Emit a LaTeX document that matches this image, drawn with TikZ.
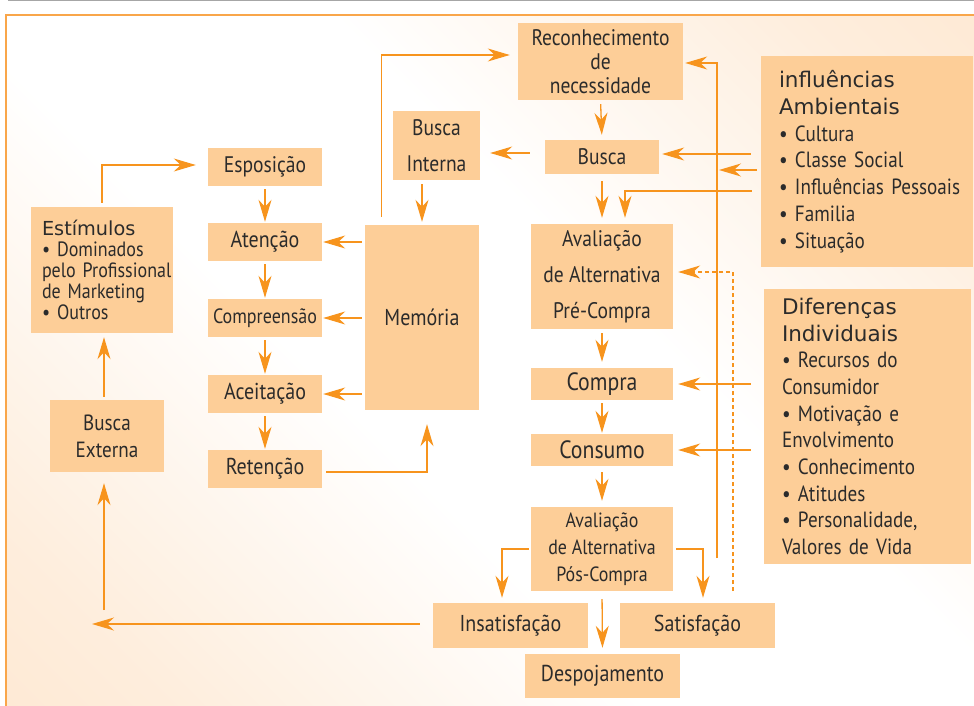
\documentclass[tikz,border=0pt]{standalone}
\usepackage{fontspec}
\setmainfont{PT Sans}[FakeStretch=0.87]
\newfontfamily\headfont{DejaVu Sans}
\usetikzlibrary{arrows.meta}
\definecolor{boxc}{HTML}{FDCE98}
\definecolor{orng}{HTML}{F7941D}
\definecolor{peach}{HTML}{FDE2C6}
\definecolor{txt}{HTML}{2B2B2B}
\definecolor{framec}{HTML}{F9A64A}
\pgfdeclarehorizontalshading{bgsh}{100bp}{color(0bp)=(peach); color(22bp)=(peach!60!white); color(42bp)=(white); color(58bp)=(white); color(78bp)=(peach!60!white); color(100bp)=(peach)}
\newcommand\fs[2]{\fontsize{#1}{#2}\selectfont}
\begin{document}
\begin{tikzpicture}[x=1pt,y=-1pt,
  bx/.style={fill=boxc, inner sep=0pt, align=center, text=txt},
  arr/.style={draw=orng, line width=1.3pt, -{Stealth[length=22pt,width=13pt,inset=7pt]}},
  darr/.style={arr, dash pattern=on 4pt off 3pt, line width=1.1pt},
  ln/.style={draw=orng, line width=1.3pt}]
\useasboundingbox (0,0) rectangle (974,706);
\fill[white] (0,0) rectangle (974,706);
\shade[shading=bgsh, shading angle=45] (6,15) rectangle (974,706);
\draw[framec, line width=1.3pt] (6,706) -- (6,15) -- (974,15);
\draw[gray!70, line width=1.5pt] (8,0.7) -- (974,0.7);

% boxes
\node[bx, minimum width=165pt, minimum height=77pt, font=\fs{22.5}{24}] (rec) at (600.5,61.5) {Reconhecimento\\de\\necessidade};
\node[bx, minimum width=114pt, minimum height=34pt, font=\fs{22.5}{24}] (busca) at (602,157) {Busca};
\node[bx, minimum width=142pt, minimum height=105pt, font=\fs{22.5}{36}] (avpre) at (602,276.5) {Avaliação\\de Alternativa\\Pré-Compra};
\node[bx, minimum width=142pt, minimum height=32pt, font=\fs{25}{26}] (compra) at (602,384) {Compra};
\node[bx, minimum width=142pt, minimum height=32pt, font=\fs{25}{26}] (consumo) at (602,450) {Consumo};
\node[bx, minimum width=142pt, minimum height=84pt, font=\fs{20.6}{27}] (avpos) at (602,549) {Avaliação\\de Alternativa\\Pós-Compra};
\node[bx, minimum width=155pt, minimum height=45pt, font=\fs{23}{24}] (insat) at (510.5,625.5) {Insatisfação};
\node[bx, minimum width=155pt, minimum height=45pt, font=\fs{23}{24}] (sat) at (697.5,625.5) {Satisfação};
\node[bx, minimum width=155pt, minimum height=44pt, font=\fs{23}{24}] (desp) at (602.5,676) {Despojamento};
\node[bx, minimum width=87pt, minimum height=69pt, font=\fs{22.5}{36}] (bint) at (436.5,145.5) {Busca\\Interna};
\node[bx, minimum width=114pt, minimum height=185pt, font=\fs{23}{24}] (mem) at (422,317.5) {Memória};
\node[bx, minimum width=114pt, minimum height=38pt, font=\fs{22.5}{24}] (esp) at (265,167) {Esposição};
\node[bx, minimum width=114pt, minimum height=38pt, font=\fs{23}{24}] (aten) at (265,242) {Atenção};
\node[bx, minimum width=114pt, minimum height=38pt, font=\fs{20.7}{24}] (comp) at (265,318) {Compreensão};
\node[bx, minimum width=114pt, minimum height=38pt, font=\fs{23}{24}] (acei) at (265,394) {Aceitação};
\node[bx, minimum width=114pt, minimum height=38pt, font=\fs{23}{24}] (ret) at (265,469) {Retenção};
\node[bx, minimum width=114pt, minimum height=72pt, font=\fs{22}{27}] (bext) at (107,436) {Busca\\Externa};
\node[bx, minimum width=142pt, minimum height=126pt, text width=120pt, align=left, font=\fs{20.7}{21.2}] (estim) at (102,270)
  {{\headfont\fs{19.3}{21.2}Estímulos}\\• Dominados\\\mbox{pelo Profissional}\\de Marketing\\• Outros};
\node[bx, minimum width=212pt, minimum height=211pt, text width=176pt, align=left, font=\fs{22}{26.8}] (amb) at (867,161.5)
  {{\headfont\fs{21.5}{26.8}influências\\Ambientais}\\• Cultura\\• Classe Social\\\mbox{• Influências Pessoais}\\• Familia\\• Situação};
\node[bx, minimum width=207pt, minimum height=275pt, text width=171pt, align=left, font=\fs{22}{26.7}] (dif) at (867.5,426.5)
  {{\headfont\fs{21.5}{26.7}Diferenças\\Individuais}\\• Recursos do\\Consumidor\\• Motivação e\\Envolvimento\\• Conhecimento\\• Atitudes\\• Personalidade,\\Valores de Vida};

% free coordinates
\coordinate (fbb) at (717,558);
\coordinate (fbm) at (717,170);
\coordinate (lft) at (92,624);
\coordinate (upb) at (104,610);
\coordinate (dsb) at (733,591);

% left chain
\draw[arr, shorten <=4pt, shorten >=12pt] (estim.north) |- ([yshift=2pt]esp.west);
\draw[arr, shorten <=3pt, shorten >=1pt] (esp) -- (aten);
\draw[arr, shorten <=3pt, shorten >=1pt] (aten) -- (comp);
\draw[arr, shorten <=3pt, shorten >=1pt] (comp) -- (acei);
\draw[arr, shorten <=3pt, shorten >=1pt] (acei) -- (ret);
\draw[arr, shorten <=3pt, shorten >=1pt] (mem.west |- aten.east) -- (aten.east);
\draw[arr, shorten <=3pt, shorten >=1pt] (mem.west |- comp.east) -- (comp.east);
\draw[arr, shorten <=3pt, shorten >=1pt] (mem.west |- acei.east) -- (acei.east);
\draw[arr, shorten <=4pt, shorten >=14pt] ([yshift=-3pt]ret.east) -| ([xshift=5pt]mem.south);
\draw[arr, shorten <=8pt, shorten >=8pt] ([xshift=17pt]mem.north west) |- ([yshift=6.5pt]rec.west);
\draw[arr, shorten <=4pt, shorten >=3pt] (bint.south -| mem.north) -- (mem.north);
\draw[arr, shorten <=15pt, shorten >=10pt] ([yshift=4pt]busca.west) -- ([yshift=4pt]bint.east |- busca.west);
\draw[arr, shorten <=4pt, shorten >=5pt] (rec.south) -- (busca.north);
\draw[arr, shorten <=7pt, shorten >=6pt] (busca) -- (avpre);

% right influences
\draw[arr, shorten <=10pt, shorten >=3pt] ([yshift=7.5pt]amb.west) -- ([yshift=3pt]busca.east);
\draw[arr, shorten <=4pt, shorten >=2pt] (amb.west |- fbm) -- (fbm);
\draw[arr, shorten <=9pt, shorten >=6pt] ([yshift=-29.5pt]amb.west) -| ([xshift=23pt]avpre.north);
\draw[arr, shorten >=2pt] (fbb) |- ([yshift=-1.5pt]rec.east);
\draw[darr, shorten >=5pt] (dsb) |- ([yshift=4.5pt]avpre.east);
\draw[arr, shorten <=13pt, shorten >=5pt] (dif.west |- compra.east) -- (compra.east);
\draw[arr, shorten <=13pt, shorten >=5pt] (dif.west |- consumo.east) -- (consumo.east);

% central chain
\draw[arr, shorten <=4pt, shorten >=6pt] (avpre) -- (compra);
\draw[arr, shorten <=3pt, shorten >=1pt] (compra) -- (consumo);
\draw[arr, shorten <=6pt, shorten >=6pt] (consumo) -- (avpos);
\draw[arr, shorten <=2pt, shorten >=5pt] (avpos.west) -| ([xshift=-8.5pt]insat.north);
\draw[arr, shorten <=3pt, shorten >=5pt] (avpos.east) -| ([xshift=5.5pt]sat.north);
\draw[arr, shorten <=8pt, shorten >=6pt] (avpos.south) -- (desp.north);

% back to external search
\draw[arr, shorten <=13pt] (insat.west |- lft) -- (lft);
\draw[arr, shorten >=11pt] (upb) -- (upb |- bext.south);
\draw[arr, shorten <=3pt, shorten >=4pt] ([xshift=-3pt]bext.north) -- ([xshift=-3pt]bext.north |- estim.south);
\end{tikzpicture}
\end{document}
